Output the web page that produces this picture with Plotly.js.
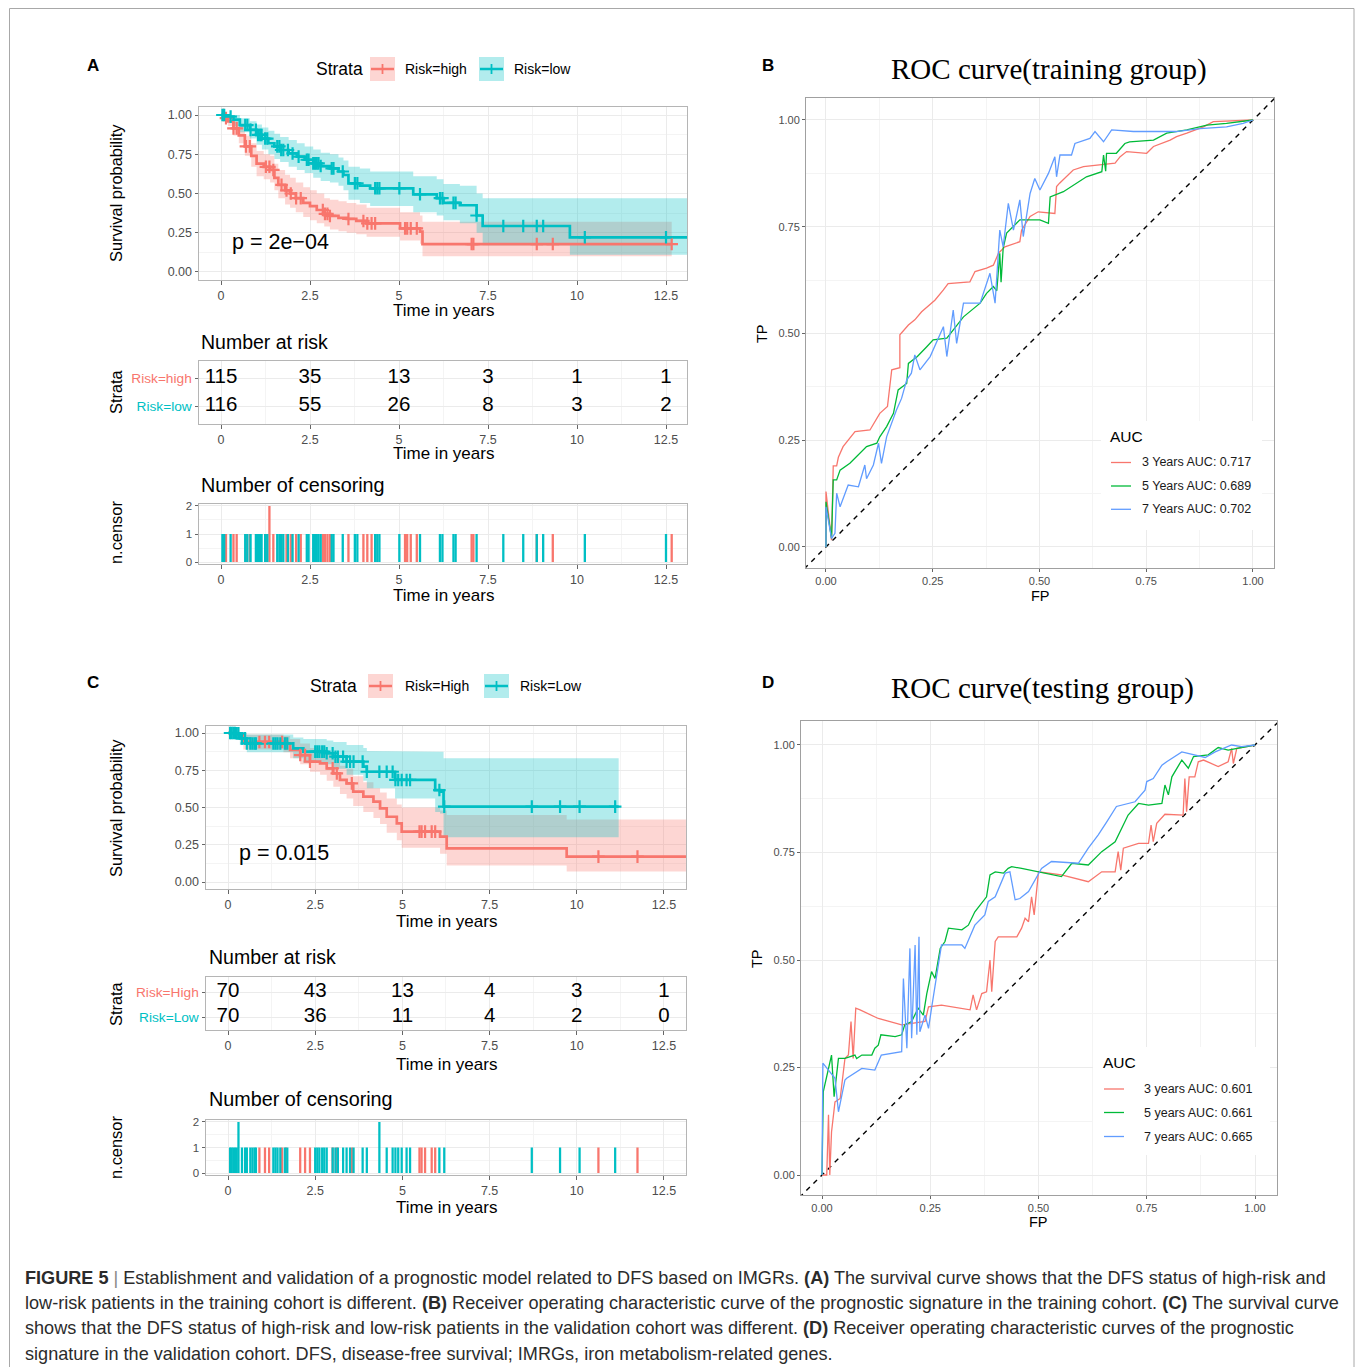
<!DOCTYPE html>
<html><head><meta charset="utf-8">
<script src="https://cdn.plot.ly/plotly-3.0.1.min.js"></script>
<style>html,body{margin:0;padding:0;background:#fff}</style>
</head><body><div id="chart" style="width:1355px;height:1367px"></div>
<script>
// ---------------- DATA ----------------
const timeTicks = [0, 2.5, 5, 7.5, 10, 12.5];

// Panel A (training) Kaplan-Meier
const aHighTime  = [0, 0.1, 0.2, 0.35, 0.5, 0.67, 0.85, 1.0, 1.2, 1.38, 1.5, 1.61, 1.8, 1.94, 2.1, 2.31, 2.5, 2.69, 2.9, 3.06, 3.3, 3.53, 3.8, 4.09, 5.03, 5.59, 5.66, 12.66];
const aHighSurv  = [1, 0.98, 0.96, 0.915, 0.87, 0.80, 0.74, 0.69, 0.67, 0.65, 0.60, 0.555, 0.52, 0.50, 0.47, 0.44, 0.42, 0.395, 0.37, 0.357, 0.345, 0.338, 0.325, 0.31, 0.278, 0.257, 0.178, 0.178];
const aHighUpper = [1, 1, 0.99, 0.96, 0.93, 0.87, 0.82, 0.77, 0.75, 0.74, 0.69, 0.65, 0.62, 0.60, 0.57, 0.54, 0.52, 0.50, 0.47, 0.46, 0.45, 0.44, 0.43, 0.41, 0.38, 0.36, 0.32, 0.32];
const aHighLower = [1, 0.96, 0.93, 0.87, 0.82, 0.74, 0.67, 0.61, 0.59, 0.57, 0.52, 0.47, 0.43, 0.41, 0.38, 0.35, 0.33, 0.31, 0.29, 0.27, 0.26, 0.25, 0.24, 0.225, 0.20, 0.18, 0.10, 0.10];

const aLowTime  = [0, 0.1, 0.35, 0.53, 0.81, 1.0, 1.15, 1.33, 1.5, 1.66, 1.9, 2.13, 2.35, 2.59, 2.8, 3.06, 3.3, 3.44, 3.58, 3.9, 4.19, 5.4, 6.06, 6.25, 6.71, 7.18, 7.35, 9.8, 13.1];
const aLowSurv  = [1, 0.99, 0.97, 0.936, 0.905, 0.873, 0.85, 0.82, 0.80, 0.777, 0.755, 0.735, 0.715, 0.692, 0.675, 0.66, 0.64, 0.618, 0.565, 0.55, 0.533, 0.495, 0.47, 0.44, 0.425, 0.36, 0.293, 0.221, 0.221];
const aLowUpper = [1, 1, 1, 0.98, 0.96, 0.94, 0.92, 0.90, 0.88, 0.86, 0.84, 0.82, 0.80, 0.78, 0.76, 0.75, 0.73, 0.71, 0.67, 0.66, 0.64, 0.61, 0.59, 0.56, 0.55, 0.50, 0.47, 0.47, 0.47];
const aLowLower = [1, 0.97, 0.93, 0.89, 0.85, 0.81, 0.78, 0.75, 0.72, 0.70, 0.67, 0.65, 0.63, 0.60, 0.58, 0.57, 0.55, 0.52, 0.46, 0.44, 0.42, 0.38, 0.36, 0.33, 0.31, 0.25, 0.17, 0.11, 0.11];

const aHighCensorTime  = [0.07, 0.14, 0.35, 0.44, 0.70, 0.81, 1.26, 1.36, 1.47, 1.70, 1.84, 1.96, 2.11, 2.24, 2.86, 2.92, 2.99, 3.06, 3.58, 4.00, 4.11, 4.23, 4.33, 5.17, 5.23, 5.33, 5.50, 7.04, 7.09, 8.87, 9.32, 12.66];
const aHighCensorCount = [1, 1, 1, 1, 1, 1, 1, 2, 1, 1, 1, 1, 1, 1, 1, 1, 1, 1, 1, 1, 1, 1, 1, 1, 1, 1, 1, 1, 1, 1, 1, 1];
const aLowCensorTime   = [0.04, 0.09, 0.27, 0.68, 0.74, 0.83, 0.98, 1.04, 1.10, 1.14, 1.24, 1.30, 1.58, 1.64, 1.69, 1.75, 1.88, 2.01, 2.18, 2.41, 2.46, 2.59, 2.64, 2.69, 2.74, 2.80, 3.11, 3.16, 3.42, 3.76, 3.83, 4.33, 4.39, 4.45, 5.01, 5.59, 6.15, 6.22, 6.53, 6.59, 7.18, 7.93, 8.49, 8.87, 9.05, 10.22, 12.50];
const aLowCensorCount  = [1, 1, 1, 1, 1, 1, 1, 1, 1, 1, 1, 1, 1, 1, 1, 1, 1, 1, 1, 1, 1, 1, 1, 1, 1, 1, 1, 1, 1, 1, 1, 1, 1, 1, 1, 1, 1, 1, 1, 1, 1, 1, 1, 1, 1, 1, 1];

const aRiskHigh = [115, 35, 13, 3, 1, 1];
const aRiskLow  = [116, 55, 26, 8, 3, 2];
const aStrata = ['Risk=high', 'Risk=low'];
const aPvalue = 'p = 2e\u221204';

// Panel C (validation) Kaplan-Meier
const cHighTime  = [0, 0.25, 0.44, 1.59, 1.78, 2.07, 2.35, 2.64, 2.83, 3.02, 3.21, 3.4, 3.59, 3.88, 4.17, 4.36, 4.55, 4.84, 4.98, 6.08, 6.27, 9.71, 13.13];
const cHighSurv  = [1, 0.987, 0.94, 0.93, 0.886, 0.852, 0.808, 0.796, 0.763, 0.729, 0.685, 0.662, 0.606, 0.573, 0.539, 0.494, 0.438, 0.394, 0.338, 0.304, 0.226, 0.17, 0.17];
const cHighUpper = [1, 1, 0.99, 0.98, 0.96, 0.93, 0.90, 0.89, 0.86, 0.83, 0.78, 0.76, 0.71, 0.67, 0.63, 0.60, 0.56, 0.52, 0.50, 0.48, 0.45, 0.42, 0.42];
const cHighLower = [1, 0.96, 0.89, 0.87, 0.83, 0.79, 0.74, 0.72, 0.68, 0.64, 0.59, 0.56, 0.51, 0.47, 0.43, 0.39, 0.33, 0.28, 0.23, 0.19, 0.11, 0.07, 0.07];

const cLowTime  = [0, 0.25, 0.34, 0.54, 1.87, 2.16, 2.83, 3.02, 3.4, 3.88, 3.98, 4.79, 5.94, 6.08, 6.18, 11.2];
const cLowSurv  = [1, 0.998, 0.964, 0.93, 0.897, 0.875, 0.864, 0.841, 0.808, 0.774, 0.74, 0.685, 0.617, 0.606, 0.506, 0.506];
const cLowUpper = [1, 1, 1, 0.99, 0.97, 0.96, 0.95, 0.94, 0.92, 0.90, 0.88, 0.875, 0.875, 0.875, 0.83, 0.83];
const cLowLower = [1, 0.98, 0.92, 0.87, 0.83, 0.80, 0.79, 0.76, 0.72, 0.68, 0.63, 0.56, 0.47, 0.46, 0.30, 0.30];

const cHighCensorTime  = [0.90, 1.06, 1.18, 1.55, 1.66, 2.07, 2.21, 2.35, 3.00, 3.12, 3.55, 5.49, 5.55, 5.65, 5.84, 5.94, 10.62, 11.74];
const cHighCensorCount = [1, 1, 1, 1, 1, 1, 1, 1, 1, 1, 1, 1, 1, 1, 1, 1, 1, 1];
const cLowCensorTime   = [0.06, 0.10, 0.15, 0.20, 0.25, 0.30, 0.40, 0.49, 0.54, 0.64, 0.70, 0.76, 0.80, 1.30, 1.36, 1.42, 1.50, 1.63, 1.70, 2.50, 2.56, 2.62, 2.70, 2.76, 2.83, 3.00, 3.08, 3.15, 3.30, 3.40, 3.50, 3.60, 3.86, 3.98, 4.34, 4.55, 4.72, 4.80, 4.88, 4.98, 5.12, 5.22, 6.06, 6.20, 8.71, 9.52, 10.08, 11.10];
const cLowCensorCount  = [1, 1, 1, 1, 1, 2, 1, 1, 1, 1, 1, 1, 1, 1, 1, 1, 1, 1, 1, 1, 1, 1, 1, 1, 1, 1, 1, 1, 1, 1, 1, 1, 1, 1, 2, 1, 1, 1, 1, 1, 1, 1, 1, 1, 1, 1, 1, 1];

const cRiskHigh = [70, 43, 13, 4, 3, 1];
const cRiskLow  = [70, 36, 11, 4, 2, 0];
const cStrata = ['Risk=High', 'Risk=Low'];
const cPvalue = 'p = 0.015';

// Panel B (training ROC)
const bFP3 = [0, 0, 0.013, 0.017, 0.025, 0.029, 0.04, 0.052, 0.068, 0.103, 0.112, 0.126, 0.144, 0.15, 0.154, 0.173, 0.173, 0.193, 0.208, 0.224, 0.247, 0.255, 0.275, 0.286, 0.337, 0.349, 0.376, 0.392, 0.404, 0.419, 0.454, 0.458, 0.478, 0.497, 0.536, 0.54, 0.547, 0.579, 0.603, 0.646, 0.677, 0.689, 0.704, 0.751, 0.767, 0.806, 0.821, 0.845, 0.884, 0.907, 1];
const bTP3 = [0, 0.13, 0.016, 0.19, 0.19, 0.21, 0.235, 0.25, 0.27, 0.274, 0.29, 0.313, 0.329, 0.375, 0.415, 0.42, 0.497, 0.52, 0.532, 0.551, 0.571, 0.578, 0.602, 0.617, 0.621, 0.645, 0.653, 0.66, 0.688, 0.703, 0.715, 0.742, 0.774, 0.785, 0.781, 0.844, 0.852, 0.883, 0.891, 0.895, 0.899, 0.914, 0.926, 0.922, 0.938, 0.953, 0.961, 0.969, 0.984, 0.996, 1];
const bFP5 = [0, 0, 0.013, 0.017, 0.025, 0.033, 0.056, 0.08, 0.095, 0.119, 0.126, 0.142, 0.158, 0.169, 0.189, 0.193, 0.214, 0.236, 0.251, 0.283, 0.298, 0.322, 0.361, 0.376, 0.392, 0.4, 0.407, 0.41, 0.415, 0.423, 0.454, 0.501, 0.521, 0.525, 0.556, 0.587, 0.61, 0.646, 0.65, 0.655, 0.657, 0.68, 0.7, 0.711, 0.767, 0.798, 0.845, 0.892, 0.938, 1];
const bTP5 = [0, 0.106, 0.02, 0.157, 0.157, 0.18, 0.196, 0.219, 0.235, 0.243, 0.258, 0.282, 0.313, 0.368, 0.383, 0.43, 0.446, 0.469, 0.485, 0.489, 0.508, 0.539, 0.571, 0.594, 0.61, 0.6, 0.688, 0.62, 0.7, 0.735, 0.766, 0.766, 0.758, 0.82, 0.832, 0.852, 0.867, 0.879, 0.918, 0.88, 0.922, 0.922, 0.945, 0.949, 0.953, 0.969, 0.977, 0.988, 0.992, 1];
const bFP7 = [0, 0, 0.013, 0.021, 0.025, 0.033, 0.052, 0.076, 0.091, 0.095, 0.111, 0.123, 0.13, 0.142, 0.165, 0.177, 0.189, 0.2, 0.208, 0.22, 0.244, 0.275, 0.283, 0.298, 0.306, 0.322, 0.361, 0.384, 0.396, 0.407, 0.415, 0.427, 0.439, 0.454, 0.462, 0.478, 0.489, 0.501, 0.521, 0.536, 0.54, 0.548, 0.575, 0.583, 0.618, 0.63, 0.65, 0.669, 0.72, 0.782, 0.82, 0.876, 0.938, 0.977, 1];
const bTP7 = [0, 0.094, 0.02, 0.032, 0.126, 0.094, 0.145, 0.141, 0.192, 0.16, 0.192, 0.243, 0.196, 0.258, 0.321, 0.348, 0.391, 0.407, 0.45, 0.415, 0.446, 0.516, 0.446, 0.555, 0.477, 0.571, 0.571, 0.641, 0.571, 0.742, 0.703, 0.805, 0.742, 0.813, 0.727, 0.828, 0.863, 0.836, 0.875, 0.914, 0.867, 0.918, 0.918, 0.945, 0.957, 0.973, 0.949, 0.977, 0.973, 0.973, 0.973, 0.98, 0.984, 0.992, 1];
const bLabels = ['3 Years AUC: 0.717', '5 Years AUC: 0.689', '7 Years AUC: 0.702'];

// Panel D (testing ROC)
const dFP3 = [0, 0.011, 0.015, 0.018, 0.022, 0.03, 0.042, 0.053, 0.061, 0.067, 0.072, 0.078, 0.088, 0.13, 0.184, 0.238, 0.246, 0.276, 0.342, 0.349, 0.357, 0.369, 0.38, 0.388, 0.392, 0.4, 0.407, 0.45, 0.461, 0.469, 0.477, 0.484, 0.49, 0.5, 0.553, 0.615, 0.646, 0.677, 0.684, 0.69, 0.696, 0.731, 0.754, 0.76, 0.765, 0.773, 0.792, 0.834, 0.838, 0.842, 0.848, 0.861, 0.869, 0.881, 0.915, 0.938, 0.946, 0.95, 0.958, 1];
const dTP3 = [0, 0, 0.14, 0, 0.1, 0.17, 0.178, 0.271, 0.279, 0.357, 0.271, 0.388, 0.384, 0.364, 0.349, 0.357, 0.391, 0.395, 0.384, 0.419, 0.384, 0.422, 0.426, 0.5, 0.426, 0.543, 0.554, 0.554, 0.574, 0.597, 0.589, 0.647, 0.605, 0.705, 0.698, 0.682, 0.705, 0.705, 0.752, 0.709, 0.76, 0.771, 0.771, 0.814, 0.775, 0.818, 0.839, 0.837, 0.922, 0.845, 0.926, 0.926, 0.961, 0.965, 0.95, 0.961, 0.992, 0.957, 0.992, 1];
const dFP5 = [0, 0.003, 0.022, 0.028, 0.038, 0.053, 0.076, 0.08, 0.092, 0.115, 0.122, 0.13, 0.136, 0.169, 0.184, 0.191, 0.207, 0.222, 0.234, 0.242, 0.253, 0.261, 0.273, 0.284, 0.292, 0.323, 0.338, 0.353, 0.38, 0.388, 0.4, 0.419, 0.43, 0.438, 0.461, 0.503, 0.553, 0.577, 0.615, 0.646, 0.677, 0.707, 0.731, 0.754, 0.785, 0.792, 0.8, 0.808, 0.831, 0.846, 0.858, 0.892, 0.915, 0.938, 1];
const dTP5 = [0, 0.194, 0.279, 0.182, 0.271, 0.271, 0.279, 0.271, 0.279, 0.279, 0.295, 0.302, 0.326, 0.322, 0.326, 0.349, 0.357, 0.388, 0.372, 0.422, 0.473, 0.457, 0.527, 0.543, 0.574, 0.57, 0.581, 0.612, 0.647, 0.698, 0.705, 0.702, 0.713, 0.717, 0.713, 0.705, 0.694, 0.725, 0.721, 0.752, 0.775, 0.837, 0.864, 0.86, 0.864, 0.907, 0.884, 0.926, 0.965, 0.946, 0.973, 0.977, 0.994, 0.988, 1];
const dFP7 = [0, 0.002, 0.03, 0.038, 0.053, 0.057, 0.092, 0.122, 0.137, 0.184, 0.188, 0.196, 0.203, 0.207, 0.215, 0.219, 0.224, 0.226, 0.238, 0.246, 0.253, 0.276, 0.323, 0.33, 0.353, 0.376, 0.384, 0.4, 0.423, 0.434, 0.446, 0.457, 0.477, 0.507, 0.53, 0.592, 0.615, 0.638, 0.658, 0.68, 0.723, 0.746, 0.75, 0.765, 0.785, 0.796, 0.831, 0.854, 0.885, 0.908, 0.946, 0.969, 1];
const dTP7 = [0, 0.26, 0.225, 0.147, 0.221, 0.225, 0.248, 0.244, 0.279, 0.287, 0.457, 0.295, 0.527, 0.318, 0.535, 0.326, 0.554, 0.333, 0.372, 0.341, 0.388, 0.535, 0.535, 0.527, 0.581, 0.605, 0.636, 0.647, 0.702, 0.705, 0.64, 0.643, 0.659, 0.713, 0.729, 0.725, 0.76, 0.791, 0.822, 0.857, 0.868, 0.895, 0.915, 0.922, 0.953, 0.961, 0.984, 0.979, 0.971, 0.984, 1, 0.996, 1];
const dLabels = ['3 years AUC: 0.601', '5 years AUC: 0.661', '7 years AUC: 0.665'];

const diagonal = [-0.2, 1.2];

// ---------------- STYLE / LAYOUT ----------------
const FONT = 'Liberation Sans, Arial, Helvetica, sans-serif';
const SERIF = 'Liberation Serif, Times New Roman, serif';
const W = 1355, H = 1367;
const px = v => v / W, py = v => 1 - v / H;
const RED = '#F8766D', CYAN = '#00BFC4', GREEN = '#00BA38', BLUE = '#619CFF';
const RED_FILL = 'rgba(248,118,109,0.3)', CYAN_FILL = 'rgba(0,191,196,0.3)';
const GRID = '#EBEBEB', MINOR = '#F4F4F4', BORDER = '#B5B5B5', TICKC = '#4D4D4D';

function ax(domain, range, anchor, o) {
  return Object.assign({
    domain: domain, range: range, anchor: anchor, autorange: false,
    showgrid: true, gridcolor: GRID, gridwidth: 1, zeroline: false,
    showline: true, mirror: true, linecolor: BORDER, linewidth: 1,
    ticks: 'outside', ticklen: 3.5, tickcolor: '#666', tickwidth: 1,
    tickfont: {family: FONT, size: 12.5, color: TICKC},
    fixedrange: true, automargin: false
  }, o || {});
}
const timeAxisOpts = {tickmode: 'array', tickvals: timeTicks, ticktext: timeTicks.map(String),
  minor: {tickmode: 'array', tickvals: timeTicks.map(t => t + 1.25), showgrid: true, gridcolor: MINOR, ticks: ''}};
const probAxisOpts = {tick0: 0, dtick: 0.25, tickformat: '.2f',
  minor: {tick0: 0, dtick: 0.125, showgrid: true, gridcolor: MINOR, ticks: ''}};

function stepAt(t, T, S) { let v = S[0]; for (let i = 0; i < T.length; i++) { if (T[i] <= t) v = S[i]; else break; } return v; }
function band(T, U, L, xa, ya, fill) {
  const xs = [], ys = [];
  for (let i = 0; i < T.length; i++) { xs.push(T[i]); ys.push(U[i]); if (i < T.length - 1) { xs.push(T[i + 1]); ys.push(U[i]); } }
  for (let i = T.length - 1; i >= 0; i--) { if (i < T.length - 1) { xs.push(T[i + 1]); ys.push(L[i]); } xs.push(T[i]); ys.push(L[i]); }
  return {x: xs, y: ys, xaxis: xa, yaxis: ya, type: 'scatter', mode: 'lines', fill: 'toself', fillcolor: fill, line: {width: 0}, hoverinfo: 'skip'};
}
function kmLine(T, S, xa, ya, col) {
  return {x: T, y: S, xaxis: xa, yaxis: ya, type: 'scatter', mode: 'lines', line: {color: col, width: 2.7, shape: 'hv'}, hoverinfo: 'skip'};
}
function censorMarks(CT, T, S, xa, ya, col) {
  return {x: CT, y: CT.map(t => stepAt(t, T, S)), xaxis: xa, yaxis: ya, type: 'scatter', mode: 'markers',
    marker: {symbol: 'cross-thin', size: 9, color: col, line: {color: col, width: 2.2}}, hoverinfo: 'skip'};
}
function censorBars(CT, CC, xa, ya, col) {
  return {x: CT, y: CC, xaxis: xa, yaxis: ya, type: 'bar', width: 0.065, marker: {color: col, line: {width: 0}}, hoverinfo: 'skip'};
}
function riskText(vals, row, xa, ya) {
  return {x: timeTicks, y: timeTicks.map(() => row), text: vals.map(String), xaxis: xa, yaxis: ya, type: 'scatter', mode: 'text',
    textposition: 'middle center', textfont: {family: FONT, size: 20.5, color: '#000'}, hoverinfo: 'skip', cliponaxis: false};
}
function roc(FP, TP, xa, ya, col) {
  return {x: FP, y: TP, xaxis: xa, yaxis: ya, type: 'scatter', mode: 'lines', line: {color: col, width: 1.3}, hoverinfo: 'skip'};
}
function diag(xa, ya) {
  return {x: diagonal, y: diagonal, xaxis: xa, yaxis: ya, type: 'scatter', mode: 'lines', line: {color: '#000', width: 1.4, dash: '5px,5px'}, hoverinfo: 'skip'};
}

const traces = [
  band(aHighTime, aHighUpper, aHighLower, 'x', 'y', RED_FILL),
  band(aLowTime, aLowUpper, aLowLower, 'x', 'y', CYAN_FILL),
  kmLine(aHighTime, aHighSurv, 'x', 'y', RED),
  kmLine(aLowTime, aLowSurv, 'x', 'y', CYAN),
  censorMarks(aHighCensorTime, aHighTime, aHighSurv, 'x', 'y', RED),
  censorMarks(aLowCensorTime, aLowTime, aLowSurv, 'x', 'y', CYAN),
  riskText(aRiskHigh, 2, 'x2', 'y2'),
  riskText(aRiskLow, 1, 'x2', 'y2'),
  censorBars(aHighCensorTime, aHighCensorCount, 'x3', 'y3', RED),
  censorBars(aLowCensorTime, aLowCensorCount, 'x3', 'y3', CYAN),
  diag('x4', 'y4'),
  roc(bFP3, bTP3, 'x4', 'y4', RED),
  roc(bFP5, bTP5, 'x4', 'y4', GREEN),
  roc(bFP7, bTP7, 'x4', 'y4', BLUE),
  band(cHighTime, cHighUpper, cHighLower, 'x5', 'y5', RED_FILL),
  band(cLowTime, cLowUpper, cLowLower, 'x5', 'y5', CYAN_FILL),
  kmLine(cHighTime, cHighSurv, 'x5', 'y5', RED),
  kmLine(cLowTime, cLowSurv, 'x5', 'y5', CYAN),
  censorMarks(cHighCensorTime, cHighTime, cHighSurv, 'x5', 'y5', RED),
  censorMarks(cLowCensorTime, cLowTime, cLowSurv, 'x5', 'y5', CYAN),
  riskText(cRiskHigh, 2, 'x6', 'y6'),
  riskText(cRiskLow, 1, 'x6', 'y6'),
  censorBars(cHighCensorTime, cHighCensorCount, 'x7', 'y7', RED),
  censorBars(cLowCensorTime, cLowCensorCount, 'x7', 'y7', CYAN),
  diag('x8', 'y8'),
  roc(dFP3, dTP3, 'x8', 'y8', RED),
  roc(dFP5, dTP5, 'x8', 'y8', GREEN),
  roc(dFP7, dTP7, 'x8', 'y8', BLUE)
];

const strataTicks = (names) => ({tickmode: 'array', tickvals: [1, 2],
  ticktext: ['<span style="color:' + CYAN + '">' + names[1] + '</span>', '<span style="color:' + RED + '">' + names[0] + '</span>'],
  tickfont: {family: FONT, size: 13.7, color: TICKC}});
const censorY = {tick0: 0, dtick: 1, tickfont: {family: FONT, size: 11.5, color: TICKC},
  minor: {tick0: 0, dtick: 0.5, showgrid: true, gridcolor: MINOR, ticks: ''}};
const rocX = Object.assign({}, probAxisOpts, {tickfont: {family: FONT, size: 11, color: TICKC}, ticklen: 3, linecolor: '#A0A0A0'});
const rocY = Object.assign({}, probAxisOpts, {tickfont: {family: FONT, size: 11, color: TICKC}, ticklen: 3, linecolor: '#A0A0A0'});

const xA = [px(199), px(687)], rA = [-0.618, 13.09];
const xC = [px(206), px(686)], rC = [-0.6307, 13.131];

const layout = {
  width: W, height: H, margin: {l: 0, r: 0, t: 0, b: 0}, showlegend: false,
  paper_bgcolor: '#fff', plot_bgcolor: '#fff', barmode: 'overlay',
  xaxis:  ax(xA, rA, 'y', timeAxisOpts),
  yaxis:  ax([py(280), py(107)], [-0.051, 1.051], 'x', probAxisOpts),
  xaxis2: ax(xA, rA, 'y2', timeAxisOpts),
  yaxis2: ax([py(424), py(361)], [0.357, 2.607], 'x2', strataTicks(aStrata)),
  xaxis3: ax(xA, rA, 'y3', timeAxisOpts),
  yaxis3: ax([py(564), py(504)], [-0.071, 2.071], 'x3', censorY),
  xaxis4: ax([px(806), px(1274)], [-0.0468, 1.0492], 'y4', rocX),
  yaxis4: ax([py(568), py(98)], [-0.0492, 1.0515], 'x4', rocY),
  xaxis5: ax(xC, rC, 'y5', timeAxisOpts),
  yaxis5: ax([py(889), py(726)], [-0.047, 1.047], 'x5', probAxisOpts),
  xaxis6: ax(xC, rC, 'y6', timeAxisOpts),
  yaxis6: ax([py(1030), py(977)], [0.48, 2.6], 'x6', strataTicks(cStrata)),
  xaxis7: ax(xC, rC, 'y7', timeAxisOpts),
  yaxis7: ax([py(1175), py(1120)], [-0.078, 2.078], 'x7', censorY),
  xaxis8: ax([px(801), px(1277)], [-0.0485, 1.0508], 'y8', rocX),
  yaxis8: ax([py(1195), py(721)], [-0.0465, 1.0558], 'x8', rocY),
  shapes: [], annotations: []
};

function ann(text, x, y, o) {
  o = o || {};
  return {text: text, x: px(x), y: py(y), xref: 'paper', yref: 'paper', showarrow: false,
    xanchor: o.xa || 'center', yanchor: o.ya || 'middle', textangle: o.rot || 0,
    font: {family: o.family || FONT, size: o.size || 17, color: o.color || '#000'}};
}
const A = layout.annotations, S = layout.shapes;

[['A', 93, 65], ['B', 768, 65], ['C', 93, 682], ['D', 768, 682]].forEach(p => A.push(ann('<b>' + p[0] + '</b>', p[1], p[2], {size: 17})));

// Panel A texts
A.push(ann('Survival probability', 116, 193, {rot: -90, size: 16.4}));
A.push(ann('Time in years', 443, 310));
A.push(ann(aPvalue, 230, 242, {xa: 'left', size: 21.5}));
A.push(ann('Number at risk', 199, 342, {xa: 'left', size: 19.5}));
A.push(ann('Strata', 116, 392, {rot: -90, size: 16.4}));
A.push(ann('Time in years', 443, 453));
A.push(ann('Number of censoring', 199, 485, {xa: 'left', size: 19.8}));
A.push(ann('n.censor', 116, 533, {rot: -90, size: 16.4}));
A.push(ann('Time in years', 443, 595));

// Panel C texts
A.push(ann('Survival probability', 116, 808, {rot: -90, size: 16.4}));
A.push(ann('Time in years', 446, 922));
A.push(ann(cPvalue, 237, 853, {xa: 'left', size: 21.5}));
A.push(ann('Number at risk', 207, 957, {xa: 'left', size: 19.5}));
A.push(ann('Strata', 116, 1004, {rot: -90, size: 16.4}));
A.push(ann('Time in years', 446, 1064));
A.push(ann('Number of censoring', 207, 1099, {xa: 'left', size: 19.8}));
A.push(ann('n.censor', 116, 1148, {rot: -90, size: 16.4}));
A.push(ann('Time in years', 446, 1207));

// KM legends
function kmLegend(yc, titleX, keys) {
  A.push(ann('Strata', titleX, yc, {xa: 'left', size: 17.5}));
  keys.forEach(k => {
    S.push({type: 'rect', xref: 'paper', yref: 'paper', x0: px(k.x0), x1: px(k.x0 + 25), y0: py(yc + 12), y1: py(yc - 12), fillcolor: k.fill, line: {width: 0}, layer: 'above'});
    S.push({type: 'line', xref: 'paper', yref: 'paper', x0: px(k.x0 + 1), x1: px(k.x0 + 24), y0: py(yc), y1: py(yc), line: {color: k.col, width: 2.5}, layer: 'above'});
    S.push({type: 'line', xref: 'paper', yref: 'paper', x0: px(k.x0 + 12.5), x1: px(k.x0 + 12.5), y0: py(yc - 5), y1: py(yc + 5), line: {color: k.col, width: 1.8}, layer: 'above'});
    A.push(ann(k.label, k.tx, yc, {xa: 'left', size: 14}));
  });
}
kmLegend(69, 314, [{x0: 370, fill: RED_FILL, col: RED, label: aStrata[0], tx: 403}, {x0: 479, fill: CYAN_FILL, col: CYAN, label: aStrata[1], tx: 512}]);
kmLegend(686, 308, [{x0: 368, fill: RED_FILL, col: RED, label: cStrata[0], tx: 403}, {x0: 484, fill: CYAN_FILL, col: CYAN, label: cStrata[1], tx: 518}]);

// ROC titles and axis titles
A.push(ann('ROC curve(training group)', 1049, 70, {family: SERIF, size: 29}));
A.push(ann('ROC curve(testing group)', 1042, 688, {family: SERIF, size: 29}));
A.push(ann('FP', 1040, 596, {size: 14.5}));
A.push(ann('TP', 762, 334, {size: 14.5, rot: -90}));
A.push(ann('FP', 1038, 1222, {size: 14.5}));
A.push(ann('TP', 757, 959, {size: 14.5, rot: -90}));

// ROC legends
function rocLegend(box, titleXY, lx0, lx1, ys, tx, labels) {
  S.push({type: 'rect', xref: 'paper', yref: 'paper', x0: px(box[0]), x1: px(box[1]), y0: py(box[3]), y1: py(box[2]), fillcolor: '#fff', line: {width: 0}, layer: 'above'});
  A.push(ann('AUC', titleXY[0], titleXY[1], {xa: 'left', size: 15.5}));
  [RED, GREEN, BLUE].forEach((c, i) => {
    S.push({type: 'line', xref: 'paper', yref: 'paper', x0: px(lx0), x1: px(lx1), y0: py(ys[i]), y1: py(ys[i]), line: {color: c, width: 1.3}, layer: 'above'});
    A.push(ann(labels[i], tx, ys[i], {xa: 'left', size: 12.5, color: '#1a1a1a'}));
  });
}
rocLegend([1101, 1262, 421, 530], [1108, 436], 1111, 1131, [462.5, 486, 509.3], 1140, bLabels);
rocLegend([1093, 1270, 1047, 1155], [1101, 1062], 1104, 1124, [1089, 1112.5, 1136.5], 1142, dLabels);

// outer frame
S.push({type: 'rect', xref: 'paper', yref: 'paper', x0: px(9.5), x1: px(1354), y0: py(1380), y1: py(8.5), line: {color: '#A8A8A8', width: 1}, fillcolor: 'rgba(0,0,0,0)', layer: 'below'});

// caption
const capLines = [
  '<b>FIGURE 5</b> <span style="color:#888">|</span> Establishment and validation of a prognostic model related to DFS based on IMGRs. <b>(A)</b> The survival curve shows that the DFS status of high-risk and',
  'low-risk patients in the training cohort is different. <b>(B)</b> Receiver operating characteristic curve of the prognostic signature in the training cohort. <b>(C)</b> The survival curve',
  'shows that the DFS status of high-risk and low-risk patients in the validation cohort was different. <b>(D)</b> Receiver operating characteristic curves of the prognostic',
  'signature in the validation cohort. DFS, disease-free survival; IMRGs, iron metabolism-related genes.'
];
capLines.forEach((t, i) => A.push(ann(t, 23, 1278 + i * 25.2, {xa: 'left', size: 18.1, color: '#2b2b2b'})));

Plotly.newPlot('chart', traces, layout, {displayModeBar: false, staticPlot: true});
</script></body></html>
